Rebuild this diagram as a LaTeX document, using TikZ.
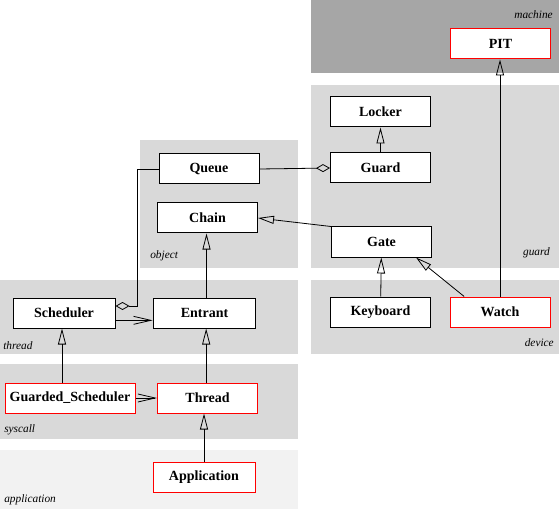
\documentclass[tikz,border=0pt]{standalone}
\usepackage{fontspec}
\setmainfont{Liberation Serif}
\usetikzlibrary{arrows.meta}
\definecolor{zonedark}{RGB}{166,166,166}
\definecolor{zonegray}{RGB}{217,217,217}
\definecolor{zonelight}{RGB}{242,242,242}

\begin{document}
\begin{tikzpicture}[x=0.75pt,y=-0.75pt,
  cls/.style={draw,fill=white,line width=0.75pt,minimum width=75pt,minimum height=22.5pt,
    inner sep=0pt,font=\fontsize{10.5}{12}\selectfont\bfseries},
  redcls/.style={cls,draw=red},
  zonelabel/.style={font=\fontsize{8.5}{10}\selectfont\itshape,inner sep=0pt},
  inherit/.style={-{Triangle[open,length=12pt,width=6pt]},line width=0.6pt},
  uses/.style={-{Straight Barb[length=13pt,width=6pt]},line width=0.6pt},
  aggr/.style={{Diamond[open,length=10.5pt,width=6pt]}-,line width=0.6pt}
]
  \useasboundingbox (0,0) rectangle (559,509);
  % Zones
  \fill[zonedark] (311,0) rectangle (559,73);
  \fill[zonegray] (311,85) rectangle (559,268);
  \fill[zonegray] (311,280) rectangle (559,354);
  \fill[zonegray] (140,140) rectangle (298,268);
  \fill[zonegray] (0,280) rectangle (298,354);
  \fill[zonegray] (0,364) rectangle (298,439);
  \fill[zonelight] (0,450) rectangle (298,509);
  \node[zonelabel,anchor=east] (lmachine) at (553,15) {machine};
  \node[zonelabel,anchor=east] (lguard) at (550,253) {guard};
  \node[zonelabel,anchor=east] (ldevice) at (554,343) {device};
  \node[zonelabel,anchor=west] (lobject) at (150,256) {object};
  \node[zonelabel,anchor=west] (lthread) at (3,346) {thread};
  \node[zonelabel,anchor=west] (lsyscall) at (4,430) {syscall};
  \node[zonelabel,anchor=west] (lapplication) at (4,500) {application};
  % Classes
  \node[redcls] (PIT) at (500.5,44) {PIT};
  \node[cls] (Locker) at (380.5,112) {Locker};
  \node[cls] (Guard) at (380.5,168) {Guard};
  \node[cls] (Gate) at (381.5,242) {Gate};
  \node[cls] (Keyboard) at (380.5,312) {Keyboard};
  \node[redcls] (Watch) at (500,312) {Watch};
  \node[cls] (Queue) at (209,169) {Queue};
  \node[cls] (Chain) at (207.5,218) {Chain};
  \node[cls,minimum width=76.5pt] (Scheduler) at (64,313) {Scheduler};
  \node[cls,minimum width=77pt] (Entrant) at (204.5,313) {Entrant};
  \node[redcls,minimum width=97.5pt] (GScheduler) at (70,398) {Guarded\_Scheduler};
  \node[redcls] (Thread) at (207.5,398) {Thread};
  \node[redcls,minimum width=76.5pt] (Application) at (204,477) {Application};
  % Inheritance
  \draw[inherit] (Watch.north) -- (Watch.north |- PIT.south);
  \draw[inherit] (Guard) -- (Locker);
  \draw[inherit] (Keyboard) -- (Gate);
  \draw[inherit] ([xshift=11pt]Watch.north west) -- ([xshift=-12pt]Gate.south east);
  \draw[inherit] (Gate.north west) -- (Chain.east);
  \draw[inherit] ([xshift=1.5pt]Entrant.north) -- ([xshift=1.5pt]Entrant.north |- Chain.south);
  \draw[inherit] ([xshift=-1pt]Thread.north) -- ([xshift=-1pt]Thread.north |- Entrant.south);
  \draw[inherit] (Application.north) -- (Application.north |- Thread.south);
  \draw[inherit] ([xshift=-6pt]GScheduler.north) -- ([xshift=-6pt]GScheduler.north |- Scheduler.south);
  % Associations
  \draw[aggr] (Guard.west) -- (Queue.east);
  \coordinate (qbend) at (137,306);
  \draw[aggr] (Scheduler.east |- qbend) -- (qbend) |- (Queue.west);
  \draw[uses] ([yshift=-5.5pt]Scheduler.east) -- ([yshift=-5.5pt]Entrant.west);
  \draw[uses] (GScheduler.east) -- (Thread.west);
\end{tikzpicture}
\end{document}
